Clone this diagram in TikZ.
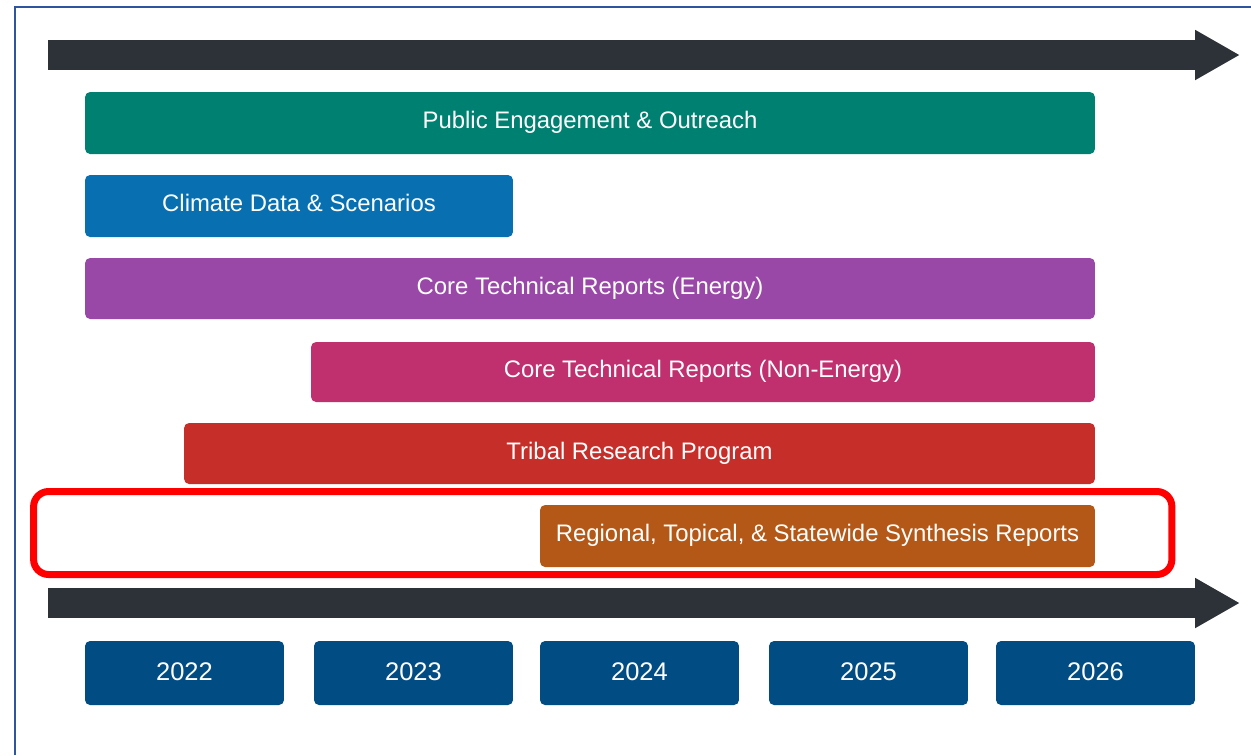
\documentclass[tikz,border=0pt]{standalone}
\usepackage{fontspec}
\setmainfont{Liberation Sans}
\usetikzlibrary{positioning}
\usetikzlibrary{arrows.meta}
\definecolor{frameblue}{RGB}{47,85,160}
\definecolor{arrowgrey}{RGB}{45,50,56}
\definecolor{engageteal}{RGB}{0,128,112}
\definecolor{climateblue}{RGB}{8,112,176}
\definecolor{energypurple}{RGB}{154,72,168}
\definecolor{nonenergypink}{RGB}{192,48,110}
\definecolor{tribalred}{RGB}{198,46,42}
\definecolor{synthorange}{RGB}{180,88,24}
\definecolor{yearnavy}{RGB}{2,76,132}
\definecolor{markred}{RGB}{255,0,0}

\begin{document}
\begin{tikzpicture}[x=0.02cm, y=-0.02cm,
        bar/.style={rectangle, rounded corners=0.1cm, text=white, inner sep=0pt,
            font=\fontsize{13.6}{16}\selectfont, text height=0.68em, text depth=0pt,
            minimum height=1.24cm},
        year/.style={rectangle, rounded corners=0.1cm, fill=yearnavy, text=white,
            inner sep=0pt, font=\fontsize{14.5}{16}\selectfont,
            text height=0.84em, text depth=0pt,
            minimum width=3.98cm, minimum height=1.28cm},
        timeline/.style={arrowgrey, line width=0.6cm,
            -{Triangle[length=0.9cm, width=0.94cm]}},
        highlight/.style={draw=markred, line width=0.14cm, rounded corners=0.3cm,
            minimum width=22.77cm, minimum height=1.66cm}]
        \useasboundingbox (0,0) rectangle (1251,755);
        \fill[white] (0,0) rectangle (1251,755);
        % frame
        \draw[frameblue, line width=0.05cm] (15,755) -- (15,7) -- (1251,7);
        
        % timelines
        \coordinate (top_start) at (48,55);
        \coordinate (top_end) at (1240,55);
        \coordinate (bottom_start) at (48,603);
        \coordinate (bottom_end) at (1240,603);
        \draw[timeline] (top_start) -- (top_end);
        \draw[timeline] (bottom_start) -- (bottom_end);
        
        % activities
        \node[bar, fill=engageteal, minimum width=20.2cm] (engage) at (590,123) {Public Engagement \& Outreach};
        \node[bar, fill=climateblue, minimum width=8.56cm] (climate) at (299,206) {Climate Data \& Scenarios};
        \node[bar, fill=energypurple, minimum width=20.2cm, minimum height=1.22cm] (energy) at (590,288.5) {Core Technical Reports (Energy)};
        \node[bar, fill=nonenergypink, minimum width=15.68cm, minimum height=1.2cm] (nonenergy) at (703,372) {Core Technical Reports (Non-Energy)};
        \node[bar, fill=tribalred, minimum width=18.22cm, minimum height=1.22cm] (tribal) at (639.5,453.5) {Tribal Research Program};
        \node[bar, fill=synthorange, minimum width=11.1cm] (synthesis) at (817.5,536) {Regional, Topical, \& Statewide Synthesis Reports};
        \node[highlight] (focus) at (602.75,533) {};
        
        % years
        \node[year] (y_2022) at (184.5,673) {2022};
        \node[year] (y_2023) at (413.5,673) {2023};
        \node[year] (y_2024) at (639.5,673) {2024};
        \node[year] (y_2025) at (868.5,673) {2025};
        \node[year] (y_2026) at (1095.5,673) {2026};
        
    \end{tikzpicture}
\end{document}
